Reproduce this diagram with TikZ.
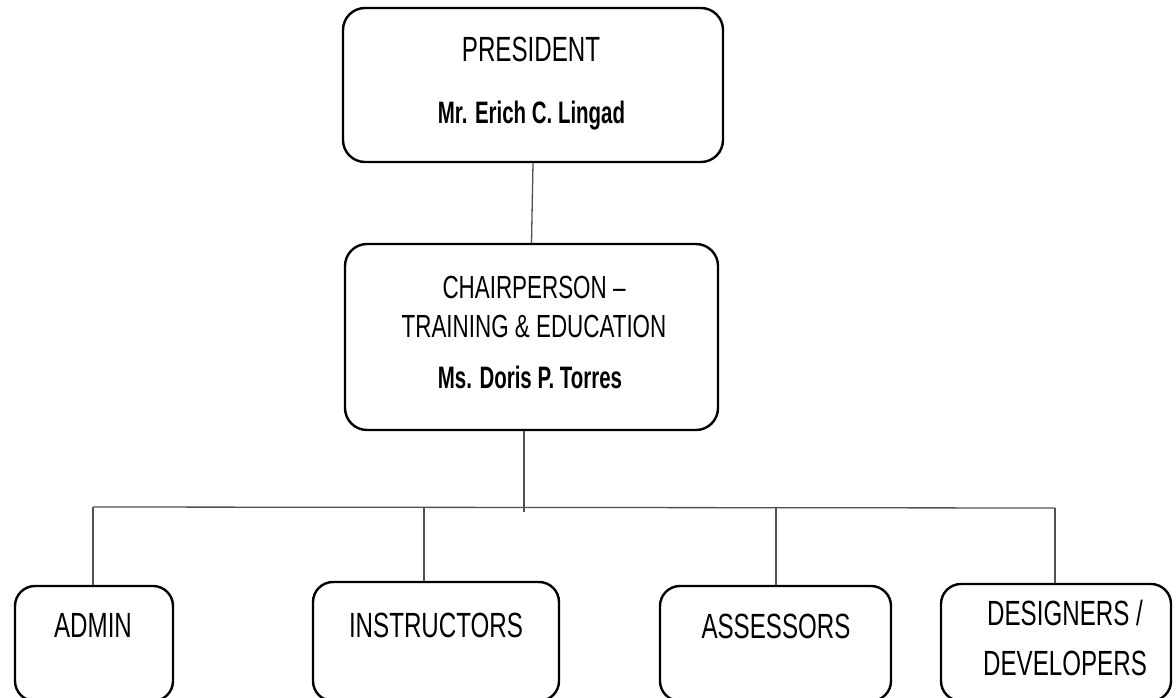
\documentclass[tikz,border=0pt]{standalone}
\usepackage{fontspec}
\newfontfamily\regfont{Liberation Sans}[FakeStretch=0.69]
\newfontfamily\chairfont{Liberation Sans}[FakeStretch=0.70]
\newfontfamily\namefont{Liberation Sans}[FakeStretch=0.66]
\definecolor{linkgray}{HTML}{505050}
\tikzset{
  orgbox/.style={draw=black, line width=2.4pt, rounded corners=22pt, inner sep=0pt, fill=none},
  link/.style={draw=linkgray, line width=1.3pt},
  lbl/.style={anchor=base, inner sep=0pt, text=black, font=\regfont\fontsize{35}{35}\selectfont},
  clbl/.style={anchor=base, inner sep=0pt, text=black, font=\chairfont\fontsize{32}{32}\selectfont},
  nlbl/.style={anchor=base, inner sep=0pt, text=black, font=\namefont\bfseries\fontsize{31}{31}\selectfont}
}
\begin{document}
\begin{tikzpicture}[x=1pt, y=-1pt]
\clip (0,0) rectangle (1176,698);
\fill[white] (0,0) rectangle (1176,698);

% boxes
\node[orgbox, minimum width=380pt, minimum height=154pt] (pres) at (533,85) {};
\node[orgbox, minimum width=373pt, minimum height=186pt] (chair) at (531.5,337) {};
\node[orgbox, rounded corners=20pt, minimum width=158pt, minimum height=115pt] (admin) at (94,643.5) {};
\node[orgbox, rounded corners=20pt, minimum width=246pt, minimum height=119pt] (instr) at (436,641.5) {};
\node[orgbox, rounded corners=20pt, minimum width=231pt, minimum height=115pt] (assess) at (775.5,643.5) {};
\node[orgbox, rounded corners=20pt, minimum width=230pt, minimum height=117pt] (design) at (1056,642.5) {};

% texts
\node[lbl] (tpres) at (531,62) {PRESIDENT};
\node[nlbl] (npres) at (531.5,124) {Mr. Erich C. Lingad};
\node[clbl] (tchair1) at (534,298) {CHAIRPERSON –};
\node[clbl] (tchair2) at (534,337) {TRAINING \& EDUCATION};
\node[nlbl] (nchair) at (530,388) {Ms. Doris P. Torres};
\node[lbl] (tadmin) at (93,637) {ADMIN};
\node[lbl] (tinstr) at (436,637) {INSTRUCTORS};
\node[lbl] (tassess) at (776,638) {ASSESSORS};
\node[lbl] (tdesign1) at (1065,625) {DESIGNERS /};
\node[lbl] (tdesign2) at (1065,675) {DEVELOPERS};

% connectors
\coordinate (stem) at (524,512);
\coordinate (busL) at (93,507);
\coordinate (busR) at (1055,508);
\coordinate (tapA) at (93,507);
\coordinate (tapI) at (424,507);
\coordinate (tapS) at (776,508);
\coordinate (tapD) at (1055,508);

\draw[link] (pres.south) -- (chair.north);
\draw[link] (chair.south -| stem) -- (stem);
\draw[link] (busL) -- (busR);
\draw[link] (tapA) -- (tapA |- admin.north);
\draw[link] (tapI) -- (tapI |- instr.north);
\draw[link] (tapS) -- (tapS |- assess.north);
\draw[link] (tapD) -- (tapD |- design.north);
\end{tikzpicture}
\end{document}
